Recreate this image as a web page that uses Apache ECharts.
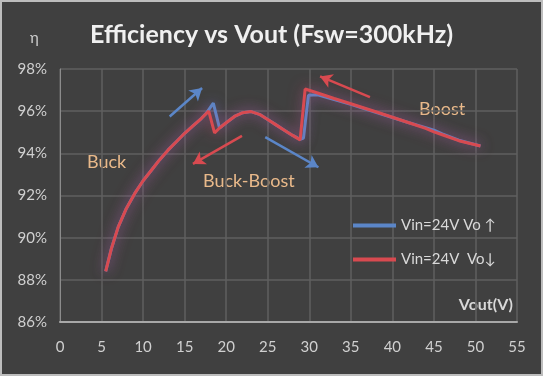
<!DOCTYPE html>
<html><head><meta charset="utf-8">
<script src="https://cdn.jsdelivr.net/npm/echarts@6/dist/echarts.min.js"></script>
<style>html,body{margin:0;padding:0;background:#404040}#c{width:543px;height:376px}</style>
</head><body><div id="c"></div>
<script>
// ---- data ----
const xTicks = [0,5,10,15,20,25,30,35,40,45,50,55];
const yTicks = [86,88,90,92,94,96,98];
const seriesNames = ['Vin=24V Vo ↑', 'Vin=24V  Vo↓'];
const voutUp = [5.5,6.2,7,8,9,10,11,12,13,14,15,16,17,17.6,18.45,19.2,20,21,22,23,24,25,26,27,28,28.9,29.3,29.9,31,33,35,38,40,42,44,45,46,48,50.6];
const etaUp  = [88.4,89.5,90.5,91.4,92.1,92.7,93.2,93.7,94.15,94.55,94.95,95.3,95.65,95.9,96.38,95.2,95.45,95.75,95.93,95.98,95.85,95.6,95.35,95.1,94.85,94.66,94.72,96.75,96.78,96.55,96.32,95.95,95.7,95.45,95.22,95.1,94.92,94.62,94.35];
const voutDown = [5.5,6.2,7,8,9,10,11,12,13,14,15,16,17,17.9,18.6,19.2,20,21,22,23,24,25,26,27,28,28.9,29.5,31,33,35,38,40,42,44,45,46,48,50.6];
const etaDown  = [88.4,89.5,90.5,91.4,92.1,92.7,93.2,93.7,94.15,94.55,94.95,95.3,95.65,96.0,94.97,95.2,95.45,95.75,95.93,95.98,95.85,95.6,95.35,95.1,94.85,94.64,97.05,96.86,96.6,96.35,95.97,95.71,95.45,95.18,95.02,94.88,94.6,94.35];
const arrowsBlue = [[[13.2,95.75],[17.1,97.1]], [[24.7,94.77],[31.1,93.34]]];
const arrowsRed  = [[[21.9,94.83],[16.0,93.5]], [[37.3,96.67],[31.3,97.65]]];
const regionLabels = ['Buck','Buck-Boost','Boost'];

const FONT = 'Lato, "Open Sans", sans-serif';
const BLUE = '#5b86c8', RED = '#d84a50';
const chart = echarts.init(document.getElementById('c'), null, {renderer:'canvas'});
const zip = (a,b) => a.map((v,i)=>[v,b[i]]);
const arrowML = (arr, color) => ({
  silent:true, symbol:['none','arrow'], symbolSize:[11,12],
  label:{show:false},
  lineStyle:{color:color, width:2.5, type:'solid'},
  data: arr.map(p => [{coord:p[0]},{coord:p[1]}])
});
chart.setOption({
  backgroundColor:'#404040',
  animation:false,
  textStyle:{fontFamily:FONT},
  title:{text:'Efficiency vs Vout (Fsw=300kHz)', left:'center', top:17,
    textStyle:{color:'#f0f0f0', fontSize:25, fontWeight:'bold', fontFamily:FONT}},
  grid:{left:60, right:26, top:69, bottom:54},
  legend:{
    data:seriesNames, orient:'vertical', left:348, top:213, itemGap:19,
    icon:'rect', itemWidth:43, itemHeight:4,
    textStyle:{color:'#d9d9d9', fontSize:15, fontFamily:FONT, padding:[0,0,0,0]}
  },
  xAxis:{type:'value', min:0, max:55, interval:5,
    axisLine:{lineStyle:{color:'#a8a8a8', width:2}},
    axisTick:{show:false},
    axisLabel:{color:'#d0d0d0', fontSize:15, margin:18, fontFamily:FONT},
    splitLine:{lineStyle:{color:'#5f5f5f', width:1.5}}
  },
  yAxis:{type:'value', min:86, max:98, interval:2,
    axisLine:{show:true, lineStyle:{color:'#8c8c8c', width:1}},
    axisTick:{show:false},
    axisLabel:{color:'#d0d0d0', fontSize:15, margin:13, formatter:'{value}%', fontFamily:FONT},
    splitLine:{lineStyle:{color:'#5f5f5f', width:1.5}}
  },
  series:[
    {name:seriesNames[0], type:'line', data:zip(voutUp, etaUp), showSymbol:false, z:3,
     lineStyle:{color:BLUE, width:3, shadowBlur:12, shadowColor:'rgba(110,120,220,0.55)'},
     itemStyle:{color:BLUE}},
    {name:seriesNames[1], type:'line', data:zip(voutDown, etaDown), showSymbol:false, z:4,
     lineStyle:{color:RED, width:3, shadowBlur:14, shadowColor:'rgba(220,70,110,0.6)'},
     itemStyle:{color:RED}},
    {name:'ab', type:'line', data:[], markLine:arrowML(arrowsBlue, BLUE)},
    {name:'ar', type:'line', data:[], markLine:arrowML(arrowsRed, RED)}
  ],
  graphic:[
    {type:'rect', shape:{x:0,y:0,width:543,height:376}, style:{fill:null, stroke:'#bdbdbd', lineWidth:4}, z:100, silent:true},
    {type:'text', left:30, top:31, style:{text:'η', fill:'#d0d0d0', font:'15px '+FONT}},
    {type:'text', left:87, top:153, style:{text:regionLabels[0], fill:'#e9b98a', font:'18px '+FONT}},
    {type:'text', left:203, top:172, style:{text:regionLabels[1], fill:'#e9b98a', font:'18px '+FONT}},
    {type:'text', left:419, top:100, style:{text:regionLabels[2], fill:'#e9b98a', font:'18px '+FONT}},
    {type:'text', right:30, top:297, style:{text:'Vout(V)', fill:'#d8d8d8', font:'bold 16px '+FONT}}
  ]
});
</script></body></html>
